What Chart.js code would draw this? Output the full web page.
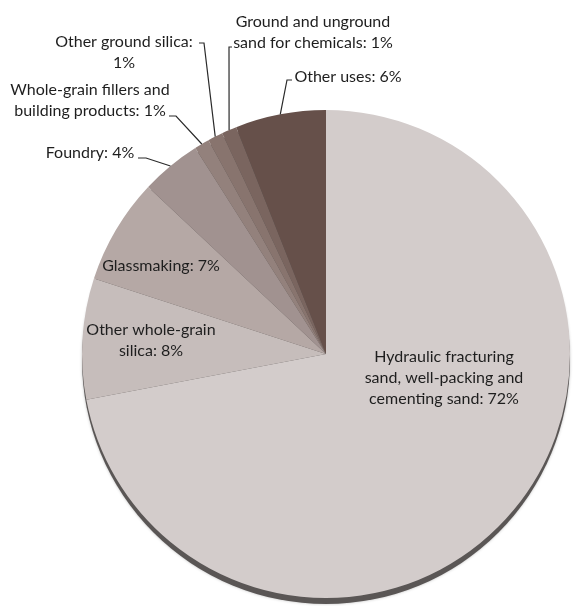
<!DOCTYPE html>
<html><head><meta charset="utf-8">
<script src="https://cdn.jsdelivr.net/npm/chart.js@4.4.0/dist/chart.umd.min.js"></script>
<style>html,body{margin:0;padding:0;background:#fff;}canvas{display:block;}</style>
</head><body>
<canvas id="c" width="575" height="606"></canvas>
<script>
const categories = [
  "Hydraulic fracturing sand, well-packing and cementing sand",
  "Other whole-grain silica",
  "Glassmaking",
  "Foundry",
  "Whole-grain fillers and building products",
  "Other ground silica",
  "Ground and unground sand for chemicals",
  "Other uses"
];
const values = [72, 8, 7, 4, 1, 1, 1, 6];
const colors = ["#d3cccb", "#c6bdbb", "#b5a8a5", "#a19290", "#93817c", "#88746e", "#7a655f", "#66504a"];
const labelLines = [
  ["Hydraulic fracturing", "sand, well-packing and", "cementing sand: 72%"],
  ["Other whole-grain", "silica: 8%"],
  ["Glassmaking: 7%"],
  ["Foundry: 4%"],
  ["Whole-grain fillers and", "building products: 1%"],
  ["Other ground silica:", "1%"],
  ["Ground and unground", "sand for chemicals: 1%"],
  ["Other uses: 6%"]
];
// label placement: text centre x, first line y, optional leader (elbow, tick end)
const labelLayout = [
  {x: 444, y: 357},
  {x: 151, y: 330},
  {x: 161, y: 266},
  {x: 90, y: 153, elbow: [146, 158], tick: [138, 158]},
  {x: 90, y: 90, elbow: [176, 116], tick: [169, 116]},
  {x: 124, y: 42, elbow: [204, 43], tick: [199, 43]},
  {x: 313, y: 22, elbow: [229, 47], tick: [232, 47]},
  {x: 348, y: 77, elbow: [287, 80], tick: [292, 80]}
];
const FONT = '16px "Lato", "Liberation Sans", sans-serif';
const LINE_H = 21;

const shadowPlugin = {
  id: 'rim',
  beforeDatasetsDraw(chart) {
    const a = chart.getDatasetMeta(0).data[0];
    if (!a) return;
    const ctx = chart.ctx;
    ctx.save();
    ctx.beginPath();
    ctx.arc(a.x, a.y + 6, a.outerRadius, 0, Math.PI * 2);
    ctx.fillStyle = '#5a5655';
    ctx.shadowColor = 'rgba(0,0,0,0.25)';
    ctx.shadowBlur = 3;
    ctx.fill();
    ctx.restore();
  }
};

const labelPlugin = {
  id: 'labels',
  afterDatasetsDraw(chart) {
    const ctx = chart.ctx;
    const meta = chart.getDatasetMeta(0);
    ctx.save();
    ctx.font = FONT;
    ctx.fillStyle = '#1e1e1e';
    ctx.strokeStyle = '#2a2a2a';
    ctx.lineWidth = 1.2;
    ctx.textAlign = 'center';
    ctx.textBaseline = 'middle';
    meta.data.forEach((arc, i) => {
      const L = labelLayout[i];
      labelLines[i].forEach((t, k) => ctx.fillText(t, L.x, L.y + k * LINE_H));
      if (L.elbow) {
        const mid = (arc.startAngle + arc.endAngle) / 2;
        const ex = arc.x + Math.cos(mid) * arc.outerRadius;
        const ey = arc.y + Math.sin(mid) * arc.outerRadius;
        ctx.beginPath();
        ctx.moveTo(L.tick[0], L.tick[1]);
        ctx.lineTo(L.elbow[0], L.elbow[1]);
        ctx.lineTo(ex, ey);
        ctx.stroke();
      }
    });
    ctx.restore();
  }
};

new Chart(document.getElementById('c'), {
  type: 'pie',
  data: {
    labels: categories,
    datasets: [{data: values, backgroundColor: colors, borderWidth: 0}]
  },
  options: {
    responsive: false,
    animation: false,
    layout: {padding: {left: 82, right: 5, top: 110, bottom: 8}},
    plugins: {legend: {display: false}, tooltip: {enabled: false}}
  },
  plugins: [shadowPlugin, labelPlugin]
});
</script>
</body></html>
